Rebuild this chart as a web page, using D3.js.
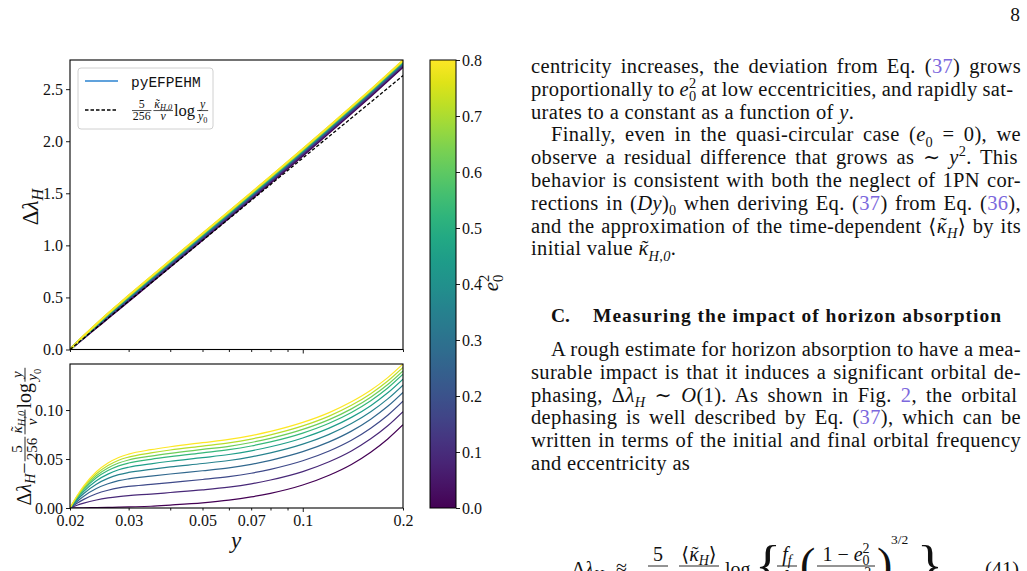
<!DOCTYPE html>
<html>
<head>
<meta charset="utf-8">
<script src="https://cdn.jsdelivr.net/npm/d3@7"></script>
<style>
  body { margin: 0; background: #fff; }
  text { font-family: "Liberation Serif", "DejaVu Serif", serif; }
</style>
</head>
<body>
<svg id="page" width="1027" height="571"></svg>
<script>
// frequency grid (x) and the e0^2 of each curve (colour)
const yGrid = [0.02, 0.021, 0.022, 0.024, 0.026, 0.028, 0.03, 0.035, 0.04, 0.05, 0.06, 0.07, 0.08, 0.1, 0.12, 0.14, 0.16, 0.18, 0.2];
const e0Sq = [0, 0.089, 0.178, 0.267, 0.356, 0.444, 0.533, 0.622, 0.711, 0.8];

// dashed estimate 5/256 k/nu log(y/y0)
const refCurve = [0, 0.056, 0.109, 0.208, 0.300, 0.384, 0.463, 0.639, 0.792, 1.047, 1.255, 1.431, 1.583, 1.838, 2.047, 2.223, 2.375, 2.510, 2.630];

// residual dLambda_H - estimate (bottom panel), one row per e0^2
const resid = [
  [0, 0.0001, 0.0002, 0.0004, 0.0006, 0.0008, 0.0011, 0.0018, 0.003, 0.0053, 0.008, 0.0113, 0.015, 0.0235, 0.0335, 0.0445, 0.057, 0.0705, 0.085],
  [0, 0.0028, 0.005, 0.0082, 0.0103, 0.0117, 0.0127, 0.0142, 0.0158, 0.0185, 0.0213, 0.0247, 0.0286, 0.0372, 0.0472, 0.0582, 0.0706, 0.0839, 0.0983],
  [0, 0.0049, 0.0088, 0.0146, 0.0181, 0.0205, 0.022, 0.0241, 0.026, 0.0291, 0.032, 0.0355, 0.0395, 0.0482, 0.0582, 0.0692, 0.0815, 0.0947, 0.109],
  [0, 0.0067, 0.0121, 0.0199, 0.0247, 0.0279, 0.0298, 0.0325, 0.0347, 0.038, 0.041, 0.0446, 0.0487, 0.0575, 0.0675, 0.0785, 0.0907, 0.1038, 0.118],
  [0, 0.0082, 0.0148, 0.0243, 0.0302, 0.034, 0.0363, 0.0395, 0.0419, 0.0454, 0.0485, 0.0522, 0.0563, 0.0652, 0.0752, 0.0862, 0.0983, 0.1114, 0.1255],
  [0, 0.0094, 0.017, 0.0279, 0.0346, 0.039, 0.0416, 0.0451, 0.0477, 0.0514, 0.0546, 0.0584, 0.0625, 0.0715, 0.0815, 0.0925, 0.1045, 0.1176, 0.1316],
  [0, 0.0104, 0.0187, 0.0308, 0.0382, 0.043, 0.0459, 0.0497, 0.0524, 0.0563, 0.0595, 0.0633, 0.0675, 0.0765, 0.0865, 0.0975, 0.1095, 0.1225, 0.1365],
  [0, 0.0111, 0.02, 0.0329, 0.0408, 0.0459, 0.049, 0.053, 0.0558, 0.0598, 0.063, 0.0669, 0.0711, 0.0802, 0.0902, 0.1012, 0.1131, 0.1261, 0.14],
  [0, 0.0118, 0.0213, 0.0349, 0.0433, 0.0488, 0.052, 0.0562, 0.0592, 0.0632, 0.0665, 0.0704, 0.0747, 0.0838, 0.0938, 0.1048, 0.1167, 0.1296, 0.1435],
  [0, 0.0125, 0.0225, 0.037, 0.0459, 0.0516, 0.055, 0.0595, 0.0625, 0.0667, 0.07, 0.0739, 0.0782, 0.0874, 0.0974, 0.1084, 0.1202, 0.1331, 0.147]
];

// ticks
const topYTicks = [0, 0.5, 1.0, 1.5, 2.0, 2.5];
const botYTicks = [0, 0.05, 0.10];
const xTickVals = [0.02, 0.03, 0.04, 0.05, 0.06, 0.07, 0.08, 0.09, 0.1, 0.2];
const xTickText = ["0.02", "0.03", "", "0.05", "", "0.07", "", "", "0.1", "0.2"];
const cbarTicks = [0, 0.1, 0.2, 0.3, 0.4, 0.5, 0.6, 0.7, 0.8];

const svg = d3.select("#page");
const INK = "#111";
const LINK = "#7c68dd";
const NB = "\u00a0";

const x = d3.scaleLog().domain([0.02, 0.2]).range([70, 403]);
const yTop = d3.scaleLinear().domain([0, 2.78]).range([349.5, 60]);
const yBot = d3.scaleLinear().domain([0, 0.147]).range([508, 364]);
const cbarY = d3.scaleLinear().domain([0, 0.8]).range([508, 60]);
const color = d3.scaleSequential(d3.interpolateViridis).domain([0, 0.8]);

const defs = svg.append("defs");
defs.append("clipPath").attr("id", "clipTop").append("rect")
  .attr("x", 70).attr("y", 60).attr("width", 333).attr("height", 289.5);
defs.append("clipPath").attr("id", "clipBot").append("rect")
  .attr("x", 70).attr("y", 364).attr("width", 333).attr("height", 144);

// ---- little math typesetter: items placed left to right, returns width
function mathRow(g, items, x0, base, s) {
  let xc = x0, lastW = 0;
  items.forEach(it => {
    if (it.frac) {
      const fs = s * (it.scale || 0.7);
      const bar = base - 0.3 * s;
      const gN = g.append("g"), gD = g.append("g");
      const wN = mathRow(gN, it.frac[0], 0, bar - 0.17 * s, fs);
      const wD = mathRow(gD, it.frac[1], 0, bar + 0.1 * s + 0.68 * fs, fs);
      const w = Math.max(wN, wD) + 0.22 * s;
      gN.attr("transform", `translate(${xc + (w - wN) / 2},0)`);
      gD.attr("transform", `translate(${xc + (w - wD) / 2},0)`);
      g.append("line")
        .attr("x1", xc + 0.06 * s).attr("x2", xc + w - 0.06 * s)
        .attr("y1", bar).attr("y2", bar)
        .attr("stroke", INK).attr("stroke-width", Math.max(0.7, s * 0.045));
      xc += w;
      lastW = w;
    } else {
      const small = it.sub !== undefined || it.sup !== undefined;
      const fs = small ? s * 0.7 : s;
      const dy = it.sub !== undefined ? 0.22 * s : (it.sup !== undefined ? -0.42 * s : 0);
      if (it.back) xc -= lastW;
      const t = g.append("text")
        .attr("x", xc).attr("y", base + dy)
        .attr("font-size", fs).attr("fill", INK)
        .attr("font-style", it.i ? "italic" : null)
        .text(it.t ?? it.sub ?? it.sup);
      lastW = t.node().getComputedTextLength();
      if (it.tl) {
        g.append("text").attr("x", xc + lastW / 2 + 0.06 * fs).attr("y", base + dy - 0.02 * fs)
          .attr("text-anchor", "middle").attr("font-size", fs).attr("fill", INK).text("˜");
      }
      xc += lastW + (it.sp || 0);
    }
  });
  return xc - x0;
}

function rotLabel(items, cx, cy, s) {
  const g = svg.append("g");
  const w = mathRow(g, items, 0, 0, s);
  g.attr("transform", `translate(${cx},${cy}) rotate(-90) translate(${-w / 2},${0.3 * s})`);
}

// ---- top panel
const lineTop = d3.line().x(d => x(d[0])).y(d => yTop(d[1])).curve(d3.curveMonotoneX);
const topG = svg.append("g").attr("clip-path", "url(#clipTop)");
resid.forEach((r, k) => {
  topG.append("path")
    .datum(yGrid.map((v, i) => [v, refCurve[i] + r[i]]))
    .attr("d", lineTop)
    .attr("fill", "none")
    .attr("stroke", color(e0Sq[k]))
    .attr("stroke-width", 2);
});
topG.append("path")
  .datum(yGrid.map((v, i) => [v, refCurve[i]]))
  .attr("d", lineTop)
  .attr("fill", "none")
  .attr("stroke", "#000")
  .attr("stroke-width", 1.3)
  .attr("stroke-dasharray", "3.5,2");

// ---- bottom panel
const lineBot = d3.line().x(d => x(d[0])).y(d => yBot(d[1])).curve(d3.curveMonotoneX);
const botG = svg.append("g").attr("clip-path", "url(#clipBot)");
resid.forEach((r, k) => {
  botG.append("path")
    .datum(yGrid.map((v, i) => [v, r[i]]))
    .attr("d", lineBot)
    .attr("fill", "none")
    .attr("stroke", color(e0Sq[k]))
    .attr("stroke-width", 1.2);
});

// ---- axes
function styleAxis(g) {
  g.select(".domain").remove();
  g.attr("font-family", "Liberation Serif").attr("font-size", 16);
  g.selectAll(".tick line").attr("stroke", "#000").attr("stroke-width", 0.9);
  g.selectAll(".tick text").attr("fill", INK);
}

svg.append("g").attr("transform", "translate(70,0)")
  .call(d3.axisLeft(yTop).tickValues(topYTicks).tickFormat(d3.format(".1f")).tickSize(4).tickPadding(3))
  .call(styleAxis);
svg.append("g").attr("transform", "translate(70,0)")
  .call(d3.axisLeft(yBot).tickValues(botYTicks).tickFormat(d3.format(".2f")).tickSize(4).tickPadding(3))
  .call(styleAxis);

svg.append("g").attr("transform", "translate(0,349.5)")
  .call(d3.axisBottom(x).tickValues(xTickVals).tickFormat("").tickSize(4))
  .call(styleAxis)
  .call(g => g.selectAll(".tick line").attr("y2", d => d === 0.1 ? 4 : 2.5));
svg.append("g").attr("transform", "translate(0,508)")
  .call(d3.axisBottom(x).tickValues(xTickVals)
    .tickFormat(d => xTickText[xTickVals.indexOf(d)]).tickSize(4).tickPadding(3))
  .call(styleAxis)
  .call(g => g.selectAll(".tick line").attr("y2", d => d === 0.1 ? 4 : 2.5));

// frames
[[60, 289.5], [364, 144]].forEach(([top, h]) => {
  svg.append("rect").attr("x", 70).attr("y", top).attr("width", 333).attr("height", h)
    .attr("fill", "none").attr("stroke", "#000").attr("stroke-width", 1.1);
});

// axis labels
rotLabel([{ t: "Δ" }, { t: "λ", i: 1 }, { sub: "H", i: 1 }], 31, 207, 23);
rotLabel([
  { t: "Δ" }, { t: "λ", i: 1 }, { sub: "H", i: 1 }, { t: "−" },
  { frac: [[{ t: "5" }], [{ t: "256" }]], scale: 0.75 },
  { frac: [[{ t: "κ", i: 1, tl: 1 }, { sub: "H,0", i: 1 }], [{ t: "ν", i: 1 }]], scale: 0.75 },
  { t: "log" },
  { frac: [[{ t: "y", i: 1 }], [{ t: "y", i: 1 }, { sub: "0" }]], scale: 0.75 }
], 25, 436, 20);
svg.append("text").attr("x", 236).attr("y", 548).attr("text-anchor", "middle")
  .attr("font-size", 23).attr("font-style", "italic").attr("fill", INK).text("y");

// ---- legend
svg.append("rect").attr("x", 78).attr("y", 68).attr("width", 135).attr("height", 61).attr("rx", 3)
  .attr("fill", "#fff").attr("fill-opacity", 0.85).attr("stroke", "#d0d0d0").attr("stroke-width", 1);
svg.append("line").attr("x1", 85).attr("x2", 118).attr("y1", 81).attr("y2", 81)
  .attr("stroke", "#2b83d0").attr("stroke-width", 1.5);
svg.append("text").attr("x", 131).attr("y", 86.5).attr("font-size", 14.5)
  .style("font-family", "'Liberation Mono', 'DejaVu Sans Mono', monospace").attr("fill", INK).text("pyEFPEHM");
svg.append("line").attr("x1", 85).attr("x2", 118).attr("y1", 110).attr("y2", 110)
  .attr("stroke", "#000").attr("stroke-width", 1.3).attr("stroke-dasharray", "3.5,2");
mathRow(svg.append("g"), [
  { frac: [[{ t: "5" }], [{ t: "256" }]], scale: 0.72 },
  { frac: [[{ t: "κ", i: 1, tl: 1 }, { sub: "H,0", i: 1 }], [{ t: "ν", i: 1 }]], scale: 0.72 },
  { t: "log", sp: 1 },
  { frac: [[{ t: "y", i: 1 }], [{ t: "y", i: 1 }, { sub: "0" }]], scale: 0.72 }
], 131, 115.5, 16.5);

// ---- colorbar
const grad = defs.append("linearGradient").attr("id", "viridis")
  .attr("x1", 0).attr("y1", 1).attr("x2", 0).attr("y2", 0);
d3.range(0, 1.0001, 0.05).forEach(t => {
  grad.append("stop").attr("offset", t).attr("stop-color", d3.interpolateViridis(t));
});
svg.append("rect").attr("x", 430).attr("y", 60).attr("width", 26).attr("height", 448)
  .attr("fill", "url(#viridis)").attr("stroke", "#000").attr("stroke-width", 1);
svg.append("g").attr("transform", "translate(456,0)")
  .call(d3.axisRight(cbarY).tickValues(cbarTicks).tickFormat(d3.format(".1f")).tickSize(4).tickPadding(2))
  .call(styleAxis);
rotLabel([{ t: "e", i: 1 }, { sup: "2" }, { sub: "0", back: true }], 492, 283, 21);

// ---- page text
const FS = 20.5;
const LS = 0.35;
function textLine(x0, y0, segs, width) {
  const t = svg.append("text").attr("x", x0).attr("y", y0).attr("font-size", FS)
    .attr("letter-spacing", LS).attr("fill", INK);
  let off = 0, prevW = 0, spaces = 0;
  const tildes = [];
  segs.forEach(sg => {
    const [str, f] = typeof sg === "string" ? [sg, ""] : sg;
    const ts = t.append("tspan").text(str);
    const target = f.includes("_") ? 0.25 * FS : (f.includes("^") ? -0.38 * FS : 0);
    if (target !== off) ts.attr("dy", target - off);
    off = target;
    if (f.includes("_") || f.includes("^")) ts.attr("font-size", FS * 0.7);
    if (f.includes("i")) ts.attr("font-style", "italic");
    if (f.includes("l")) ts.attr("fill", LINK);
    if (f.includes("k")) ts.attr("dx", -prevW);
    if (f.includes("t")) tildes.push(ts);
    prevW = ts.node().getComputedTextLength();
    spaces += (str.match(/ /g) || []).length;
  });
  if (width) {
    const w = t.node().getComputedTextLength();
    t.attr("word-spacing", (width - w) / spaces);
  }
  tildes.forEach(ts => {
    const n = ts.node();
    const a = n.getStartPositionOfChar(0).x, b = n.getEndPositionOfChar(0).x;
    svg.append("text").attr("x", (a + b) / 2 + 1.5).attr("y", y0 - 0.5)
      .attr("text-anchor", "middle").attr("font-size", FS).attr("fill", INK).text("˜");
  });
}

const L = 531, R = 1021, IND = 20;
const lh = 22.8;
const p1 = [
  [L, ["centricity increases, the deviation from Eq. (", ["37", "l"], ") grows"], true],
  [L, ["proportionally to ", ["e", "i"], ["2", "^"], ["0", "_k"], " at low eccentricities, and rapidly sat-"], true],
  [L, ["urates to a constant as a function of ", ["y", "i"], "."], false],
  [L + IND, ["Finally, even in the quasi-circular case (", ["e", "i"], ["0", "_"], " = 0), we"], true],
  [L, ["observe a residual difference that grows as ∼ ", ["y", "i"], ["2", "^"], ".  This"], true],
  [L, ["behavior is consistent with both the neglect of 1PN cor-"], true],
  [L, ["rections in (", ["Dy", "i"], ")", ["0", "_"], " when deriving Eq. (", ["37", "l"], ") from Eq. (", ["36", "l"], "),"], true],
  [L, ["and the approximation of the time-dependent ⟨", ["κ", "it"], ["H", "_i"], "⟩ by its"], true],
  [L, ["initial value ", ["κ", "it"], ["H,0", "_i"], "."], false]
];
p1.forEach(([x0, segs, just], i) => textLine(x0, 73 + lh * i, segs, just ? R - x0 : 0));

svg.append("text").attr("x", 551).attr("y", 322).attr("font-size", 19.5).attr("font-weight", "bold")
  .attr("fill", INK).text("C.");
svg.append("text").attr("x", 593).attr("y", 322).attr("font-size", 19.5).attr("font-weight", "bold")
  .attr("fill", INK).attr("textLength", 408).attr("lengthAdjust", "spacing")
  .text("Measuring the impact of horizon absorption");

const p2 = [
  [L + IND, ["A rough estimate for horizon absorption to have a mea-"], true],
  [L, ["surable impact is that it induces a significant orbital de-"], true],
  [L, ["phasing, Δ", ["λ", "i"], ["H", "_i"], " ∼ ", ["O", "i"], "(1).  As shown in Fig. ", ["2", "l"], ", the orbital"], true],
  [L, ["dephasing is well described by Eq. (", ["37", "l"], "), which can be"], true],
  [L, ["written in terms of the initial and final orbital frequency"], true],
  [L, ["and eccentricity as"], false]
];
p2.forEach(([x0, segs, just], i) => textLine(x0, 356 + lh * i, segs, just ? R - x0 : 0));

// equation (41), cut by the page edge
const eq = svg.append("g");
const EB = 576, EBAR = 566, ES = 20;
mathRow(eq, [{ t: "Δ" }, { t: "λ", i: 1 }, { sub: "H", i: 1 }], 572, EB, ES);
eq.append("text").attr("x", 616).attr("y", EB - 2).attr("font-size", ES).attr("fill", INK).text("≈");
function eqFrac(cx, half, numItems, denItems) {
  const gN = eq.append("g"), gD = eq.append("g");
  const wN = mathRow(gN, numItems, 0, EBAR - 5, ES);
  const wD = mathRow(gD, denItems, 0, EBAR + 19, ES);
  gN.attr("transform", `translate(${cx - wN / 2},0)`);
  gD.attr("transform", `translate(${cx - wD / 2},0)`);
  eq.append("line").attr("x1", cx - half).attr("x2", cx + half).attr("y1", EBAR).attr("y2", EBAR)
    .attr("stroke", INK).attr("stroke-width", 0.9);
}
eqFrac(658, 10, [{ t: "5" }], [{ t: "256" }]);
eqFrac(699, 20, [{ t: "⟨" }, { t: "κ", i: 1, tl: 1 }, { sub: "H", i: 1 }, { t: "⟩" }], [{ t: "ν", i: 1 }]);
eq.append("text").attr("x", 725).attr("y", EB).attr("font-size", ES).attr("fill", INK).text("log");
eq.append("text").attr("x", 755).attr("y", 583).attr("font-size", 54).attr("fill", INK).text("{");
eqFrac(787, 10, [{ t: "f", i: 1 }, { sub: "f", i: 1 }], [{ t: "f", i: 1 }, { sub: "0" }]);
eq.append("text").attr("x", 800).attr("y", 580).attr("font-size", 46).attr("fill", INK).text("(");
eqFrac(846, 29, [{ t: "1" + NB + "−" + NB }, { t: "e", i: 1 }, { sup: "2" }, { sub: "0", back: true }],
  [{ t: "1" + NB + "−" + NB }, { t: "e", i: 1 }, { sup: "2" }, { sub: "f", back: true, i: 1 }]);
eq.append("text").attr("x", 877).attr("y", 580).attr("font-size", 46).attr("fill", INK).text(")");
eq.append("text").attr("x", 891).attr("y", 544).attr("font-size", 13.5).attr("fill", INK).text("3/2");
eq.append("text").attr("x", 917).attr("y", 583).attr("font-size", 54).attr("fill", INK).text("}");
eq.append("text").attr("x", 985).attr("y", EB).attr("font-size", FS).attr("fill", INK).text("(41)");

// page number
svg.append("text").attr("x", 1020).attr("y", 21).attr("text-anchor", "end")
  .attr("font-size", 19.5).attr("fill", INK).text("8");
</script>
</body>
</html>
